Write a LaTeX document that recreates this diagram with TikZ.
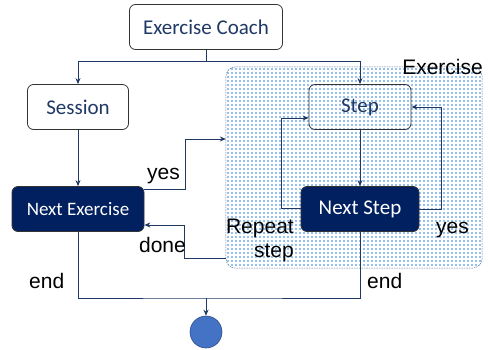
\documentclass[tikz,border=0pt]{standalone}
\usepackage{fontspec}
\setmainfont{Liberation Sans}
\newfontfamily\boxfont{Carlito}
\usetikzlibrary{arrows.meta}

\definecolor{navy}{HTML}{002060}
\definecolor{linkblue}{HTML}{1F3864}
\definecolor{dotblue}{HTML}{2F7FD8}
\definecolor{endblue}{HTML}{4472C4}

\tikzset{
    stage/.style={draw=black!80, line width=0.8pt, rounded corners=6pt,
        minimum height=45pt, font=\boxfont\fontsize{21}{24}\selectfont, text=linkblue},
    darkstage/.style={stage, fill=navy, text=white},
    flow/.style={draw=linkblue, line width=0.9pt, -{Stealth[length=6pt, width=5pt]}},
    link/.style={draw=linkblue, line width=0.9pt},
    tag/.style={font=\fontsize{21}{24}\selectfont, inner sep=0pt},
}

\begin{document}
\begin{tikzpicture}[x=1pt, y=-1pt]
    \useasboundingbox (0,0) rectangle (488,349);
    % exercise region
    \node (exercise) [minimum width=256pt, minimum height=201pt, inner sep=0pt] at (354,167.5) {};
    \begin{scope}
        \clip [rounded corners=10pt] (exercise.north west) rectangle (exercise.south east);
        \fill [dotblue] \foreach \i in {0,...,63} {\foreach \j in {0,...,49} {(228+4*\i,69+4*\j) circle [radius=0.8pt]}};
    \end{scope}
    \draw [draw=linkblue!70, dash pattern=on 1.5pt off 1pt, line width=0.5pt,
        rounded corners=10pt] (exercise.north west) rectangle (exercise.south east);
    \node (exlabel) [tag, anchor=base east] at (483,74) {Exercise};

    \node (coach) [stage, minimum width=153pt] at (206,27) {Exercise Coach};
    \node (session) [stage, minimum width=101pt, fill=white] at (78,107) {Session};
    \node (step) [stage, minimum width=102pt] at (360,107) {Step};
    \node (nextex) [darkstage, minimum width=132pt, font=\boxfont\fontsize{19}{22}\selectfont] at (78,209) {Next Exercise};
    \node (nextstep) [darkstage, minimum width=118pt] at (360,209) {Next Step};
    \node (finish) [circle, minimum size=32pt, inner sep=0pt, fill=endblue, draw=endblue!70!black, line width=0.6pt] at (206,332) {};

    \draw [link] (coach.south) -- ++(0,11.5) coordinate (split);
    \draw [flow] (split) -| (session.north);
    \draw [flow] (split) -| (step.north);
    \draw [flow] (session.south) -- (nextex.north);
    \draw [flow] (step.south) -- (nextstep.north);

    % yes / done between the two levels
    \draw [flow] ([yshift=20pt]nextex.east) -- ++(41,0) |- ([yshift=28.5pt]exercise.west);
    \draw [flow] ([yshift=-90.5pt]exercise.west) -- ++(-41,0) |- ([yshift=-16pt]nextex.east);
    \node (yesleft) [tag, anchor=base east] at (180,179) {yes};
    \node (done) [tag, anchor=base east] at (186,252) {done};

    % loops round step
    \draw [flow] ([yshift=1pt]nextstep.west) -- ++(-19,0) |- ([yshift=-11pt]step.west);
    \draw [flow] (nextstep.east) -- ++(22,0) |- (step.east);
    \node (repeat) [tag, anchor=base east, align=right] at (294,257) {Repeat\\step};
    \node (yesright) [tag, anchor=base west] at (436,233) {yes};

    % end
    \coordinate (join) at (206,298);
    \draw [link] (nextex.south) |- (join) -| (nextstep.south);
    \draw [flow] (join) -- (finish.north);
    \node (endleft) [tag, anchor=base west] at (29,288) {end};
    \node (endright) [tag, anchor=base west] at (367,288) {end};
\end{tikzpicture}
\end{document}
